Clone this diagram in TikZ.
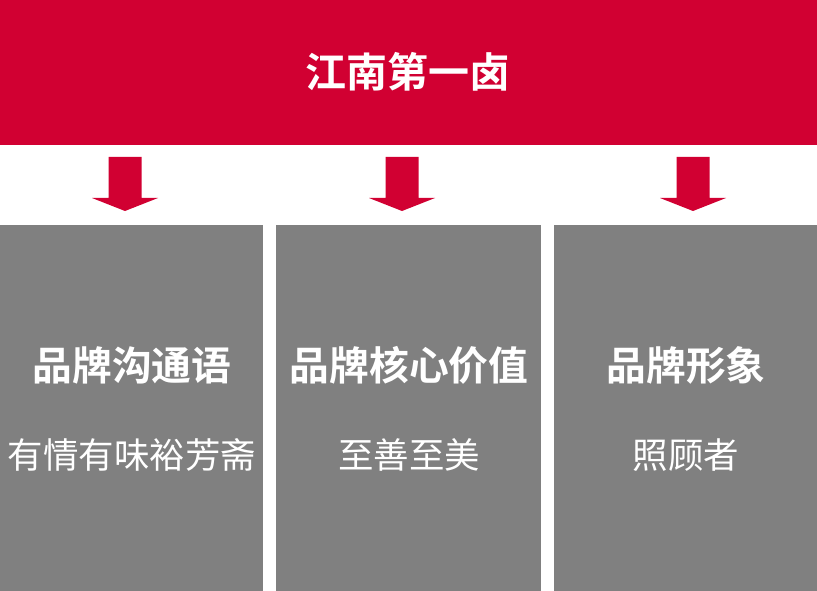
\documentclass[tikz,border=0pt]{standalone}
\usepackage{fontspec}
\newfontfamily\cjk{Noto Sans CJK SC}
\newfontfamily\cjkb{Noto Sans CJK SC Bold}
\definecolor{brandred}{HTML}{D10032}
\definecolor{boxgray}{HTML}{808080}
\begin{document}
\begin{tikzpicture}[x=1pt,y=-1pt,
  banner/.style={fill=brandred,draw=none},
  panel/.style={fill=boxgray,draw=none},
  downarrow/.style={fill=brandred,draw=none},
  headtxt/.style={text=white,font=\cjkb\fontsize{41}{46}\selectfont,inner sep=0pt},
  titletxt/.style={text=white,font=\cjkb\fontsize{39.8}{44}\selectfont,inner sep=0pt},
  subtxt/.style={text=white,font=\cjk\fontsize{35.5}{40}\selectfont,inner sep=0pt}]
\useasboundingbox (0,0) rectangle (817,591);
\fill[white] (0,0) rectangle (817,591);
\path[banner] (0,0) rectangle (817,145);
\node[headtxt] (head) at (408,72) {江南第一卤};
% arrows
\foreach \cx/\nm in {125/a1,402/a2,693/a3}{
  \path[downarrow] (\cx-16.5,157) -- (\cx+16.5,157) -- (\cx+16.5,198) -- (\cx+33,198) -- (\cx,211) -- (\cx-33,198) -- (\cx-16.5,198) -- cycle;
}
\path[panel] (0,225) rectangle (263,591);
\path[panel] (276,225) rectangle (541,591);
\path[panel] (554,225) rectangle (817,591);
\node[titletxt] (t1) at (132,365) {品牌沟通语};
\node[titletxt] (t2) at (409,365) {品牌核心价值};
\node[titletxt] (t3) at (686,365) {品牌形象};
\node[subtxt] (s1) at (132,455) {有情有味裕芳斋};
\node[subtxt] (s2) at (409,455) {至善至美};
\node[subtxt] (s3) at (686,455) {照顾者};
\end{tikzpicture}
\end{document}
